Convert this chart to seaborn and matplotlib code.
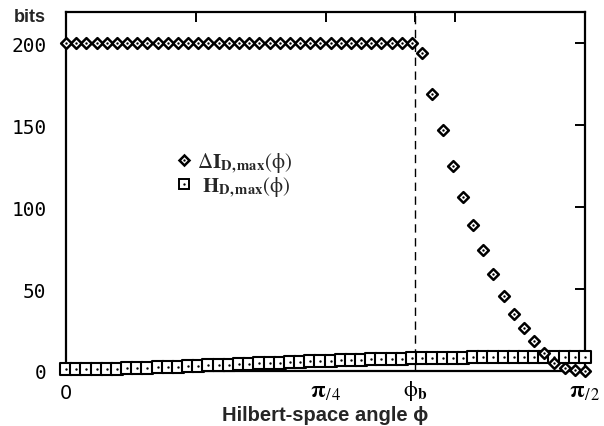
import numpy as np
import pandas as pd
import matplotlib
matplotlib.use("Agg")
import matplotlib.pyplot as plt
import seaborn as sns
from matplotlib.lines import Line2D

# Hilbert-space angle grid from 0 to pi/2
n_points = 52
phi = np.linspace(0, np.pi / 2, n_points)
phi_b = 1.057

# maximal information gain Delta I_D,max (bits)
delta_I = [200, 200, 200, 200, 200, 200, 200, 200, 200, 200,
           200, 200, 200, 200, 200, 200, 200, 200, 200, 200,
           200, 200, 200, 200, 200, 200, 200, 200, 200, 200,
           200, 200, 200, 200, 200,
           194, 169, 147, 125, 106, 89, 74, 59, 46, 35,
           26, 18, 11, 5, 2, 0.5, 0]

# maximal entropy H_D,max (bits)
H_max = [1.0, 1.0, 1.1, 1.2, 1.3, 1.4, 1.6, 1.8, 2.0, 2.2,
         2.4, 2.7, 2.9, 3.2, 3.4, 3.7, 3.9, 4.1, 4.4, 4.6,
         4.9, 5.1, 5.4, 5.6, 5.8, 6.1, 6.3, 6.5, 6.7, 6.9,
         7.1, 7.2, 7.4, 7.5, 7.7, 7.8, 7.9, 8.0, 8.1, 8.2,
         8.3, 8.4, 8.4, 8.5, 8.5, 8.6, 8.6, 8.6, 8.7, 8.7,
         8.7, 8.7]

y_ticks = [0, 50, 100, 150, 200]
x_tick_pos = [0, np.pi / 8, np.pi / 4, 3 * np.pi / 8, phi_b, np.pi / 2]
x_tick_labels = ["0", "", r"$\mathbf{\pi}_{\mathrm{/\,4}}$", "",
                 r"$\mathrm{\phi}_{\mathbf{b}}$", r"$\mathbf{\pi}_{\mathrm{/\,2}}$"]

df = pd.DataFrame({"phi": phi, "dI": delta_I, "H": H_max})

sns.set_style("white")
plt.rcParams["mathtext.fontset"] = "stix"
plt.rcParams["font.family"] = ["DejaVu Sans"]

fig = plt.figure(figsize=(6.04, 4.27), dpi=100)
ax = fig.add_axes([66 / 604, 1 - 372 / 427, 519 / 604, 359 / 427])

# dashed marker line at phi_b
ax.axvline(phi_b, color="black", lw=1.0, ls=(0, (6, 4)), zorder=1)

sns.scatterplot(data=df, x="phi", y="H", ax=ax, marker="s", s=75,
                facecolor="white", edgecolor="black", linewidth=1.5,
                clip_on=False, zorder=3)
sns.scatterplot(data=df, x="phi", y="H", ax=ax, marker="o", s=3,
                color="black", linewidth=0, clip_on=False, zorder=4)
sns.scatterplot(data=df, x="phi", y="dI", ax=ax, marker="D", s=30,
                facecolor="white", edgecolor="black", linewidth=1.8,
                clip_on=False, zorder=5)
sns.scatterplot(data=df, x="phi", y="dI", ax=ax, marker="o", s=3,
                color="black", linewidth=0, clip_on=False, zorder=6)

ax.set_xlim(0, np.pi / 2)
ax.set_ylim(0, 219)
ax.set_xlabel("")
ax.set_ylabel("")

for sp in ax.spines.values():
    sp.set_visible(True)
    sp.set_linewidth(1.6)
    sp.set_color("black")

ax.set_yticks(y_ticks)
ax.set_yticklabels([str(v) for v in y_ticks], family="DejaVu Sans Mono", fontsize=14)
ax.set_xticks(x_tick_pos)
ax.set_xticklabels(x_tick_labels, fontsize=17)
ax.tick_params(axis="both", direction="in", length=7, width=1.4, color="black",
               top=True, right=True, labelcolor="black")
ax.tick_params(axis="x", pad=5)
ax.tick_params(axis="y", pad=14)
xl = ax.get_xticklabels()
xl[0].set_fontfamily("DejaVu Sans")
xl[0].set_fontsize(14)
xl[4].set_fontsize(16)
ax.xaxis.get_major_ticks()[0].set_pad(9)

fig.text(30 / 604, 1 - 17 / 427, "bits", ha="center", va="center",
         fontsize=13, fontweight="bold", family="Liberation Sans")
fig.text(325 / 604, 1 - 416 / 427, "Hilbert-space angle ϕ", ha="center", va="center",
         fontsize=14.5, fontweight="bold", family="Liberation Sans")

# legend with dotted hollow markers
h_d = (Line2D([], [], ls="none", marker="D", ms=5.3, mfc="white", mec="black", mew=1.8),
       Line2D([], [], ls="none", marker="o", ms=1.7, mfc="black", mec="none"))
h_s = (Line2D([], [], ls="none", marker="s", ms=7.8, mfc="white", mec="black", mew=1.4),
       Line2D([], [], ls="none", marker="o", ms=1.7, mfc="black", mec="none"))
ax.legend([h_d, h_s],
          [r"$\Delta\mathbf{I}_{\mathbf{D,max}}(\mathrm{\phi})$",
           r"$\ \mathbf{H}_{\mathbf{D,max}}(\mathrm{\phi})$"],
          loc="upper left", bbox_to_anchor=(0.183, 0.655), frameon=False,
          fontsize=15, handlelength=0.8, handletextpad=0.25, labelspacing=0.02,
          borderpad=0.2)

fig.savefig("out.png", dpi=100)
